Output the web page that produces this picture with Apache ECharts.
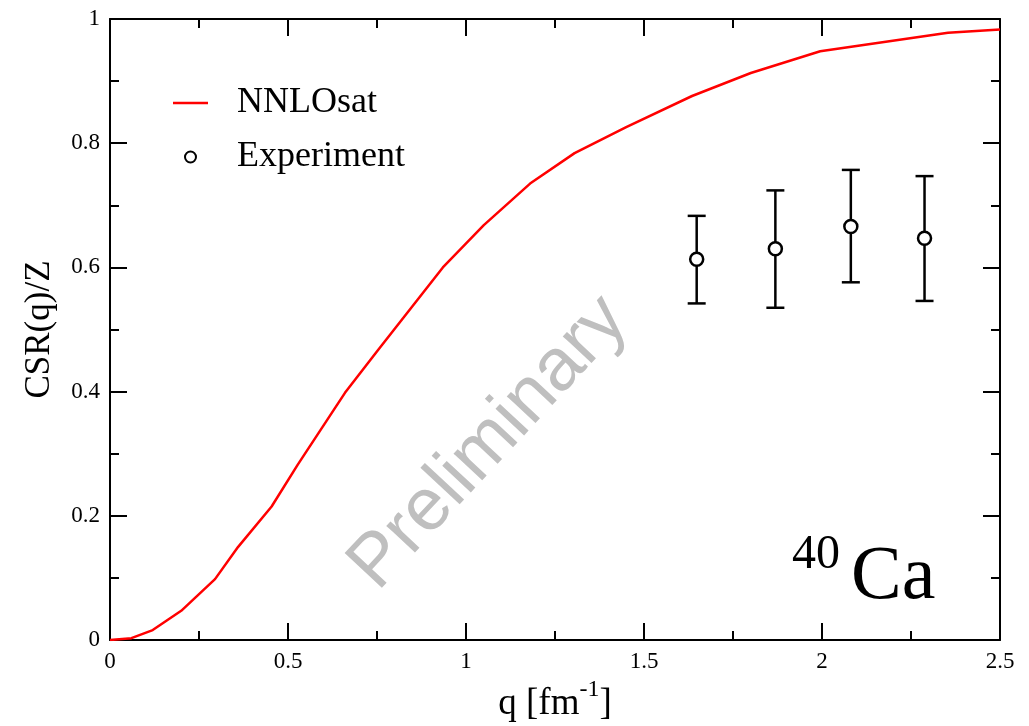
<!DOCTYPE html>
<html>
<head>
<meta charset="utf-8">
<script src="https://cdn.jsdelivr.net/npm/echarts@6/dist/echarts.min.js"></script>
<style>html,body{margin:0;padding:0;background:#fff;}#c{width:1029px;height:726px;}</style>
</head>
<body>
<div id="c"></div>
<script>
// NNLOsat theory curve
var curveQ = [0, 0.06, 0.12, 0.2, 0.295, 0.36, 0.454, 0.527, 0.66, 0.753, 0.935, 1.05, 1.18, 1.305, 1.45, 1.635, 1.8, 1.995, 2.354, 2.5];
var curveV = [0, 0.003, 0.016, 0.047, 0.098, 0.15, 0.215, 0.282, 0.398, 0.467, 0.6, 0.668, 0.735, 0.784, 0.826, 0.876, 0.913, 0.948, 0.978, 0.983];
// Experimental points with error bars
var expQ  = [1.648, 1.869, 2.081, 2.288];
var expV  = [0.613, 0.630, 0.666, 0.647];
var expLo = [0.542, 0.535, 0.576, 0.546];
var expHi = [0.683, 0.724, 0.757, 0.747];
var seriesNames = ['NNLOsat', 'Experiment'];

var SERIF = '"Liberation Serif", "Times New Roman", serif';
var curveData = curveQ.map(function (q, i) { return [q, curveV[i]]; });
var expData = expQ.map(function (q, i) { return [q, expV[i]]; });
var errData = expQ.map(function (q, i) { return [q, expLo[i], expHi[i]]; });

var chart = echarts.init(document.getElementById('c'), null, {renderer: 'canvas'});

function frameAxis(extra) {
  var base = {
    axisLine: {show: true, onZero: false, lineStyle: {color: '#000', width: 2}},
    axisTick: {show: true, inside: true, length: 17, lineStyle: {color: '#000', width: 2}},
    minorTick: {show: true, splitNumber: 2, length: 9, lineStyle: {color: '#000', width: 2}},
    splitLine: {show: false},
    minorSplitLine: {show: false}
  };
  for (var k in extra) base[k] = extra[k];
  return base;
}

var option = {
  animation: false,
  backgroundColor: '#fff',
  grid: {left: 110, right: 29, top: 19, bottom: 86, containLabel: false, outerBoundsMode: 'none'},
  legend: {
    data: [
      {name: seriesNames[0], icon: 'path://M0,0 H14 V1 H0 Z'},
      {name: seriesNames[1]}
    ],
    orient: 'vertical',
    left: 173,
    top: 84,
    padding: 0,
    itemWidth: 35,
    itemHeight: 11,
    itemGap: 16,
    symbolKeepAspect: true,
    textStyle: {fontFamily: SERIF, fontSize: 36, color: '#000', lineHeight: 38, padding: [0, 0, 0, 24]},
    selectedMode: false
  },
  xAxis: [
    frameAxis({
      type: 'value', position: 'bottom', min: 0, max: 2.5, interval: 0.5,
      axisLabel: {show: true, margin: 10, fontFamily: SERIF, fontSize: 23, color: '#000',
        formatter: function (v) { return String(v); }},
      name: '{a|q [fm}{s|-1}{a|]}',
      nameLocation: 'middle',
      nameGap: 32,
      nameTextStyle: {
        rich: {
          a: {fontFamily: SERIF, fontSize: 37, color: '#000', lineHeight: 52},
          s: {fontFamily: SERIF, fontSize: 24, color: '#000', lineHeight: 24, padding: [0, 0, 28, 0]}
        }
      }
    }),
    frameAxis({
      type: 'value', position: 'top', min: 0, max: 2.5, interval: 0.5,
      axisLabel: {show: false}
    })
  ],
  yAxis: [
    frameAxis({
      type: 'value', position: 'left', min: 0, max: 1, interval: 0.2,
      axisLabel: {show: true, margin: 10, fontFamily: SERIF, fontSize: 23, color: '#000',
        formatter: function (v) { return String(Math.round(v * 10) / 10); }},
      name: 'CSR(q)/Z',
      nameLocation: 'middle',
      nameGap: 53,
      nameTextStyle: {fontFamily: SERIF, fontSize: 35, color: '#000'}
    }),
    frameAxis({
      type: 'value', position: 'right', min: 0, max: 1, interval: 0.2,
      axisLabel: {show: false}
    })
  ],
  graphic: [
    {
      type: 'text', x: 489, y: 443, rotation: 47 * Math.PI / 180, z: 1, silent: true,
      style: {text: 'Preliminary', fill: '#bfbfbf', font: '74px "Liberation Sans", Arial, sans-serif',
        textAlign: 'center', textVerticalAlign: 'middle'}
    },
    {
      type: 'text', x: 792, y: 531, z: 5, silent: true,
      style: {text: '40', fill: '#000', font: '48px ' + SERIF, textAlign: 'left', textVerticalAlign: 'top'}
    },
    {
      type: 'text', x: 851, y: 540, z: 5, silent: true,
      style: {text: 'Ca', fill: '#000', font: '76px ' + SERIF, textAlign: 'left', textVerticalAlign: 'top'}
    }
  ],
  series: [
    {
      name: seriesNames[0],
      type: 'line',
      data: curveData,
      symbol: 'none',
      showSymbol: false,
      lineStyle: {color: '#ff0000', width: 2.5},
      itemStyle: {color: '#ff0000'},
      z: 3
    },
    {
      name: 'errbars',
      type: 'custom',
      data: errData,
      z: 4,
      silent: true,
      renderItem: function (params, api) {
        var x = api.value(0);
        var lo = api.coord([x, api.value(1)]);
        var hi = api.coord([x, api.value(2)]);
        var hw = 9;
        var st = {stroke: '#000', lineWidth: 2.5};
        return {
          type: 'group',
          children: [
            {type: 'line', shape: {x1: lo[0], y1: lo[1], x2: hi[0], y2: hi[1]}, style: st},
            {type: 'line', shape: {x1: lo[0] - hw, y1: lo[1], x2: lo[0] + hw, y2: lo[1]}, style: st},
            {type: 'line', shape: {x1: hi[0] - hw, y1: hi[1], x2: hi[0] + hw, y2: hi[1]}, style: st}
          ]
        };
      }
    },
    {
      name: seriesNames[1],
      type: 'scatter',
      data: expData,
      symbol: 'circle',
      symbolSize: 13,
      itemStyle: {color: '#fff', borderColor: '#000', borderWidth: 2.5, opacity: 1},
      z: 5
    }
  ]
};
chart.setOption(option);
</script>
</body>
</html>
